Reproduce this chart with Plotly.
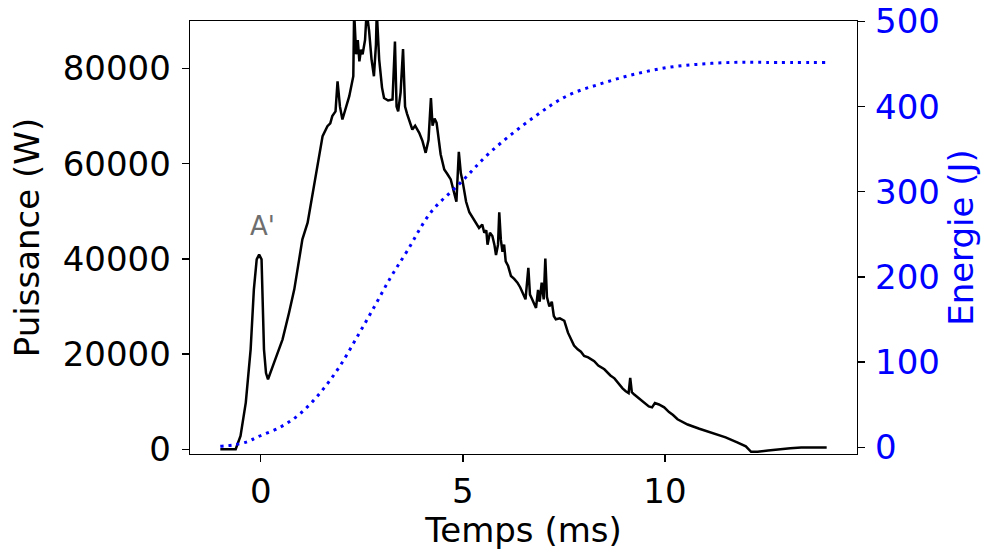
import plotly.graph_objects as go

# ---- data ----
time_ms = [-1.00, -0.62, -0.50, -0.37, -0.25, -0.17, -0.10, -0.04, 0.02, 0.04, 0.08, 0.13, 0.18,
           0.33, 0.54, 0.70, 0.83, 0.95, 1.03, 1.16, 1.36, 1.44, 1.53, 1.65, 1.72, 1.77, 1.85,
           1.90, 1.96, 2.02, 2.10, 2.19, 2.29, 2.31, 2.36, 2.40, 2.44, 2.48, 2.52, 2.58, 2.62,
           2.68, 2.74, 2.80, 2.85, 2.87, 2.93, 3.00, 3.05, 3.15, 3.26, 3.32, 3.36, 3.40, 3.46,
           3.52, 3.57, 3.62, 3.75, 3.82, 3.92, 4.00, 4.08, 4.15, 4.21, 4.25, 4.30, 4.35, 4.45,
           4.54, 4.62, 4.70, 4.78, 4.84, 4.90, 4.95, 4.99, 5.08, 5.16, 5.25, 5.32, 5.40, 5.48,
           5.53, 5.58, 5.61, 5.67, 5.73, 5.78, 5.82, 5.87, 5.90, 5.94, 5.98, 6.02, 6.06, 6.12,
           6.19, 6.27, 6.35, 6.42, 6.48, 6.55, 6.62, 6.66, 6.70, 6.77, 6.81, 6.86, 6.90, 6.95,
           7.00, 7.04, 7.08, 7.14, 7.20, 7.25, 7.30, 7.40, 7.51, 7.60, 7.67, 7.75, 7.84, 7.92,
           8.00, 8.10, 8.25, 8.35, 8.50, 8.65, 8.75, 8.83, 8.95, 9.03, 9.10, 9.14, 9.18, 9.24,
           9.35, 9.49, 9.60, 9.68, 9.75, 9.85, 9.98, 10.10, 10.20, 10.31, 10.45, 10.56, 10.85,
           11.14, 11.50, 11.80, 12.00, 12.13, 12.29, 12.55, 12.79, 13.10, 13.37, 14.00]
puissance_w = [0, 0, 2800, 9800, 21000, 33600, 39900, 40900, 39900, 33600, 21000, 16000, 14700,
               18200, 23100, 28700, 33600, 39900, 44100, 47600, 57400, 61600, 65800, 67900, 68500, 70000, 71000,
               77300, 72000, 69300, 71500, 74200, 78400, 92000, 83000, 86000, 81500, 84000, 83000, 86000, 92000,
               88000, 82000, 78400, 85000, 92000, 81900, 76000, 73800, 73300, 73500, 85700, 72000, 71000, 75000,
               84100, 72000, 70500, 67200, 68000, 66500, 64800, 62300, 65000, 73800, 68000, 69500, 68600, 62000,
               58800, 57800, 56700, 54000, 52000, 62500, 58000, 56500, 52000, 49800, 48500, 47500, 46500, 47200,
               45500, 46000, 43000, 45500, 44800, 43000, 40800, 43000, 49800, 44000, 41500, 43000, 39500, 38500,
               36400, 35800, 35000, 34000, 32900, 31500, 38100, 32500, 31800, 30200, 29700, 33500, 31000, 35000,
               31500, 40100, 32000, 30000, 31000, 28000, 27300, 27500, 27000, 24500, 23100, 21800, 21000, 20500,
               19600, 19300, 18500, 17600, 16800, 15500, 14900, 14000, 12800, 12200, 11800, 15000, 12000, 11500,
               10700, 9800, 9000, 8800, 9700, 9400, 8800, 7800, 7200, 6300, 5600, 5200, 4300,
               3500, 2500, 1400, 600, -550, -550, -250, 0, 200, 350, 350]

time_e_ms = [-1.00, -0.62, -0.30, -0.08, 0.50, 0.99, 1.49, 1.94, 2.39, 2.81, 3.22, 3.63, 4.21,
             4.95, 5.69, 6.77, 7.59, 8.42, 9.24, 10.07, 10.89, 11.71, 12.50, 14.00]
energie_j = [1, 3, 7, 12, 24, 40, 65, 94, 130, 165, 200, 231, 276,
             311, 347, 388, 413, 427, 438, 446, 450, 452, 452, 452]

x_ticks = [0, 5, 10]
y_ticks = [0, 20000, 40000, 60000, 80000]
y2_ticks = [0, 100, 200, 300, 400, 500]

FONT = "DejaVu Sans"
FS = 34
BLUE = "#0000ff"

fig = go.Figure()
fig.add_trace(go.Scatter(x=time_ms, y=puissance_w, mode="lines",
                         line=dict(color="black", width=2.5), showlegend=False))
fig.add_trace(go.Scatter(x=time_e_ms, y=energie_j, mode="lines", yaxis="y2",
                         line=dict(color=BLUE, width=3, dash="3px,5px", shape="spline"),
                         showlegend=False))

fig.add_annotation(x=0.05, y=47000, text="A'", showarrow=False,
                   font=dict(family=FONT, size=26, color="#6e6e6e"))

axis_common = dict(showline=True, linecolor="black", linewidth=1.3, ticks="outside",
                   ticklen=7, tickwidth=1.3, tickcolor="black", showgrid=False, zeroline=False,
                   automargin=False, ticklabeloverflow="allow",
                   tickfont=dict(family=FONT, size=FS, color="black"))

fig.update_layout(
    template="none",
    width=982, height=550,
    margin=dict(l=190, r=125, t=21, b=96),
    paper_bgcolor="white", plot_bgcolor="white",
    font=dict(family=FONT, size=FS, color="black"),
    xaxis=dict(**axis_common, range=[-1.75, 14.75], tickvals=x_ticks,
               ticktext=[str(v) for v in x_ticks], mirror=True,
               title=dict(text="Temps (ms)", font=dict(family=FONT, size=FS), standoff=4)),
    yaxis=dict(**axis_common, range=[-1000, 90000], tickvals=y_ticks,
               ticktext=[str(v) for v in y_ticks],
               ticklabelstandoff=4,
               title=dict(text="Puissance (W)", font=dict(family=FONT, size=FS), standoff=12)),
    yaxis2=dict(showline=True, linecolor="black", linewidth=1.3, ticks="outside",
                ticklen=7, tickwidth=1.3, tickcolor="black", showgrid=False, zeroline=False,
                automargin=False, ticklabeloverflow="allow",
                overlaying="y", side="right", range=[-8, 500.6], tickvals=y2_ticks,
                ticktext=[str(v) for v in y2_ticks],
                ticklabelstandoff=3,
                tickfont=dict(family=FONT, size=FS, color=BLUE),
                title=dict(text="Energie (J)", font=dict(family=FONT, size=FS, color=BLUE), standoff=10)),
)

# remove the page's default 8px body margin so the 982x550 figure fills the window
fig.write_html("out.html",
               config={"displayModeBar": False, "staticPlot": True},
               post_script="document.body.style.margin='0';document.body.style.overflow='hidden';")
